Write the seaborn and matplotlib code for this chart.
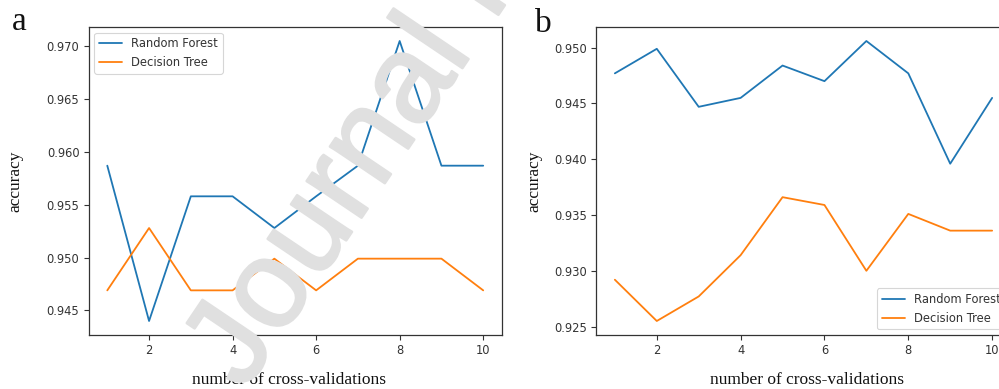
import matplotlib
matplotlib.use("Agg")
import matplotlib.pyplot as plt
import matplotlib.patheffects as pe
import numpy as np
import pandas as pd
import seaborn as sns

# Cross-validation folds
folds = list(range(1, 11))

# (a) accuracy per number of cross-validations
rf_a = [0.9587, 0.9440, 0.9558, 0.9558, 0.9528, 0.9558, 0.9587, 0.9705, 0.9587, 0.9587]
dt_a = [0.9469, 0.9528, 0.9469, 0.9469, 0.9499, 0.9469, 0.9499, 0.9499, 0.9499, 0.9469]

# (b) accuracy per number of cross-validations
rf_b = [0.9477, 0.9499, 0.9447, 0.9455, 0.9484, 0.9470, 0.9506, 0.9477, 0.9396, 0.9455]
dt_b = [0.9292, 0.9255, 0.9277, 0.9314, 0.9366, 0.9359, 0.9300, 0.9351, 0.9336, 0.9336]

models = ["Random Forest", "Decision Tree"]
yticks_a = [0.945, 0.950, 0.955, 0.960, 0.965, 0.970]
yticks_b = [0.925, 0.930, 0.935, 0.940, 0.945, 0.950]
xticks = [2, 4, 6, 8, 10]


def long_frame(rf, dt):
    return pd.DataFrame({
        "fold": folds * 2,
        "accuracy": rf + dt,
        "model": [models[0]] * len(folds) + [models[1]] * len(folds),
    })


sns.set_theme(style="ticks")
plt.rcParams["font.family"] = ["DejaVu Sans"]

W, H = 999, 389
fig = plt.figure(figsize=(W / 100, H / 100), dpi=100)

top, bottom = 27, 335
ax_a = fig.add_axes([88.5 / W, 1 - bottom / H, (502 - 88.5) / W, (bottom - top) / H])
ax_b = fig.add_axes([596 / W, 1 - bottom / H, (1011 - 596) / W, (bottom - top) / H])

palette = {models[0]: "#1f77b4", models[1]: "#ff7f0e"}
serif = ["Liberation Serif", "DejaVu Serif"]

panels = [
    (ax_a, rf_a, dt_a, yticks_a, "upper left", -0.158, 0.485),
    (ax_b, rf_b, dt_b, yticks_b, "lower right", -0.130, 0.508),
]
for ax, rf, dt, yt, loc, ylab_x, xlab_x in panels:
    sns.lineplot(data=long_frame(rf, dt), x="fold", y="accuracy", hue="model",
                 hue_order=models, palette=palette, linewidth=1.3, ax=ax)
    ax.set_xticks(xticks)
    ax.set_yticks(yt)
    ax.set_yticklabels([f"{v:.3f}" for v in yt])
    ax.tick_params(labelsize=8.3, colors="#333333", length=3.5, width=0.8, pad=3)
    for s in ax.spines.values():
        s.set_color("#333333")
        s.set_linewidth(0.9)
    ax.set_xlabel("number of cross-validations", family=serif, fontsize=12.5, color="#111111")
    ax.set_ylabel("accuracy", family=serif, fontsize=12.5, color="#111111")
    ax.xaxis.set_label_coords(xlab_x, -0.12)
    ax.yaxis.set_label_coords(ylab_x, 0.5)
    leg = ax.legend(loc=loc, fontsize=8.3, frameon=True, handlelength=2.0)
    leg.get_frame().set_edgecolor("#cccccc")
    leg.get_frame().set_linewidth(0.8)
    for t in leg.get_texts():
        t.set_color("#333333")

fig.text(12 / W, 1 - 30 / H, "a", family=serif, fontsize=24, color="#111111",
         ha="left", va="baseline")
fig.text(535 / W, 1 - 32 / H, "b", family=serif, fontsize=24, color="#111111",
         ha="left", va="baseline")

# Pre-proof watermark across the figure
wm_color = "#e0e0e0"
fig.text(244 / W, 1 - 392 / H, "Journal Pre-proof", family=["Liberation Sans"],
         fontsize=90, color=wm_color, rotation=56,
         rotation_mode="anchor", ha="left", va="baseline", zorder=10,
         path_effects=[pe.withStroke(linewidth=1.8, foreground=wm_color)])

fig.savefig("out.png", dpi=100)
